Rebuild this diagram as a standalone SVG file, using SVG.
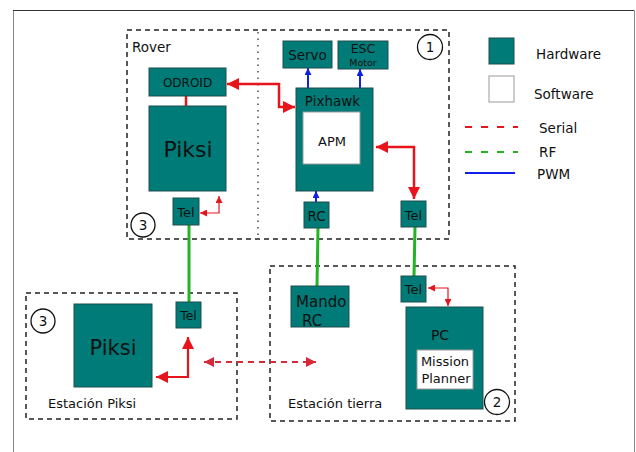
<svg xmlns="http://www.w3.org/2000/svg" width="636" height="452" viewBox="0 0 636 452">
<defs>
<style>
.hw{fill:#007b78;stroke:#1f4f4d;stroke-width:1}
.sw{fill:#ffffff;stroke:#9a9a9a;stroke-width:1}
.grp{fill:none;stroke:#222;stroke-width:1.5;stroke-dasharray:5,4}
.t{font-family:"DejaVu Sans","Verdana",sans-serif;fill:#111}
.ser{stroke:#e8141c;fill:none}
.rf{stroke:#22b422;stroke-width:3;fill:none}
.pwm{stroke:#1020e8;stroke-width:2;fill:none}
.circ{fill:#fff;stroke:#111;stroke-width:1.3}
</style>
<marker id="ar" viewBox="0 0 10 10" refX="10" refY="5" markerWidth="12" markerHeight="12" markerUnits="userSpaceOnUse" orient="auto-start-reverse"><path d="M0,0 L10,5 L0,10 Z" fill="#e8141c"/></marker>
<marker id="ars" viewBox="0 0 10 10" refX="10" refY="5" markerWidth="7" markerHeight="7" markerUnits="userSpaceOnUse" orient="auto-start-reverse"><path d="M0,0 L10,5 L0,10 Z" fill="#e8141c"/></marker>
<marker id="ard" viewBox="0 0 10 10" refX="10" refY="5" markerWidth="12" markerHeight="10" markerUnits="userSpaceOnUse" orient="auto-start-reverse"><path d="M0,0 L10,5 L0,10 Z" fill="#d42a3a"/></marker>
<marker id="ab" viewBox="0 0 10 10" refX="10" refY="5" markerWidth="7" markerHeight="7" markerUnits="userSpaceOnUse" orient="auto"><path d="M0,0 L10,5 L0,10 Z" fill="#1020e8"/></marker>
</defs>
<rect width="636" height="452" fill="#fff"/>
<path d="M13.5,452 V10.5 H634.5 V452" fill="none" stroke="#888" stroke-width="1"/>
<line x1="13" y1="10.5" x2="634" y2="10.5" stroke="#333" stroke-width="1"/>

<g id="rover-group">
<rect class="grp" x="127" y="30" width="322" height="209"/>
<line x1="258" y1="32" x2="258" y2="238" stroke="#333" stroke-width="1.3" stroke-dasharray="1.5,5"/>
<text class="t" x="132" y="52" font-size="13.5">Rover</text>
<circle class="circ" cx="430" cy="47" r="12.5"/><text class="t" x="430" y="52" font-size="13.5" text-anchor="middle">1</text>
<circle class="circ" cx="143" cy="225" r="12"/><text class="t" x="143" y="230" font-size="13.5" text-anchor="middle">3</text>
</g>
<g id="station-piksi-group">
<rect class="grp" x="26" y="293" width="211" height="126"/>
<circle class="circ" cx="43" cy="321" r="12"/><text class="t" x="43" y="326" font-size="13.5" text-anchor="middle">3</text>
<text class="t" x="48" y="408" font-size="13">Estación Piksi</text>
</g>
<g id="station-tierra-group">
<rect class="grp" x="270" y="266" width="245" height="155"/>
<circle class="circ" cx="497" cy="402" r="12.5"/><text class="t" x="497" y="407" font-size="13.5" text-anchor="middle">2</text>
<text class="t" x="288" y="408" font-size="13">Estación tierra</text>
</g>

<g id="connectors">
<line class="ser" x1="186" y1="96" x2="186" y2="106" stroke-width="2.5"/>
<polyline class="ser" points="227,84 279,84 279,107 295,107" stroke-width="2.5" marker-start="url(#ar)" marker-end="url(#ar)"/>
<polyline class="ser" points="376,147 414,147 414,199" stroke-width="2.5" marker-start="url(#ar)" marker-end="url(#ar)"/>
<polyline class="ser" points="200,213 219,213 219,196" stroke-width="1.2" marker-start="url(#ars)" marker-end="url(#ars)"/>
<polyline class="ser" points="188,337 188,377 156,377" stroke-width="2.2" marker-start="url(#ar)" marker-end="url(#ar)"/>
<polyline class="ser" points="428,288 448,288 448,306" stroke-width="1.2" marker-start="url(#ars)" marker-end="url(#ars)"/>
<line x1="204" y1="362" x2="316" y2="362" stroke="#d42a3a" stroke-width="2" stroke-dasharray="6,5" marker-start="url(#ard)" marker-end="url(#ard)"/>
<line class="pwm" x1="308" y1="88" x2="308" y2="68" marker-end="url(#ab)"/>
<line class="pwm" x1="360" y1="88" x2="360" y2="69" marker-end="url(#ab)"/>
<line class="pwm" x1="316" y1="202" x2="316" y2="191" marker-end="url(#ab)"/>
<line class="rf" x1="189" y1="225" x2="189" y2="302"/>
<line class="rf" x1="318" y1="228" x2="317" y2="286"/>
<line class="rf" x1="415" y1="227" x2="414" y2="276"/>
</g>

<g id="odroid"><rect class="hw" x="149" y="68" width="77" height="28"/><text class="t" x="187.5" y="86.5" font-size="12" text-anchor="middle">ODROID</text></g>
<g id="piksi-rover"><rect class="hw" x="149" y="106" width="77" height="85"/><text class="t" x="188" y="157" font-size="22" text-anchor="middle">Piksi</text></g>
<g id="tel-rover-left"><rect class="hw" x="173" y="198" width="26" height="27"/><text class="t" x="186" y="216.5" font-size="13" text-anchor="middle">Tel</text></g>
<g id="servo"><rect class="hw" x="283" y="41" width="49" height="27"/><text class="t" x="307.5" y="59.5" font-size="13.5" text-anchor="middle">Servo</text></g>
<g id="esc-motor"><rect class="hw" x="338" y="41" width="50" height="28"/><text class="t" x="363" y="53" font-size="12.5" text-anchor="middle">ESC</text><text class="t" x="363" y="65.5" font-size="9.5" text-anchor="middle">Motor</text></g>
<g id="pixhawk"><rect class="hw" x="296" y="88" width="77" height="103"/><text class="t" x="332.5" y="105.5" font-size="13.5" text-anchor="middle">Pixhawk</text></g>
<g id="apm"><rect class="sw" x="303" y="112" width="57" height="52"/><text class="t" x="332" y="146" font-size="13" text-anchor="middle">APM</text></g>
<g id="rc"><rect class="hw" x="304" y="202" width="25" height="26"/><text class="t" x="316.5" y="221" font-size="13.5" text-anchor="middle">RC</text></g>
<g id="tel-rover-right"><rect class="hw" x="401" y="201" width="25" height="26"/><text class="t" x="413.5" y="220" font-size="13" text-anchor="middle">Tel</text></g>

<g id="piksi-station"><rect class="hw" x="74" y="304" width="78" height="83"/><text class="t" x="113" y="355" font-size="21" text-anchor="middle">Piksi</text></g>
<g id="tel-piksi-station"><rect class="hw" x="176" y="302" width="25" height="26"/><text class="t" x="188.5" y="320" font-size="12.5" text-anchor="middle">Tel</text></g>

<g id="mando-rc"><rect class="hw" x="291" y="286" width="58" height="41"/><text class="t" x="296" y="307" font-size="15">Mando</text><text class="t" x="302" y="326" font-size="15">RC</text></g>
<g id="tel-tierra"><rect class="hw" x="401" y="276" width="25" height="26"/><text class="t" x="413.5" y="294" font-size="13" text-anchor="middle">Tel</text></g>
<g id="pc"><rect class="hw" x="406" y="307" width="77" height="102"/><text class="t" x="440" y="340" font-size="14" text-anchor="middle">PC</text></g>
<g id="mission-planner"><rect class="sw" x="417" y="350" width="56" height="39"/><text class="t" x="445" y="366" font-size="13" text-anchor="middle">Mission</text><text class="t" x="446" y="383" font-size="13" text-anchor="middle">Planner</text></g>

<g id="legend">
<rect class="hw" x="489" y="38" width="25" height="26" stroke="#222"/>
<text class="t" x="536" y="59" font-size="13.5">Hardware</text>
<rect class="sw" x="489" y="76" width="25" height="26"/>
<text class="t" x="534" y="99" font-size="13.5">Software</text>
<line x1="465" y1="127" x2="518" y2="127" stroke="#e8141c" stroke-width="2" stroke-dasharray="7,9"/>
<text class="t" x="539" y="133" font-size="13.5">Serial</text>
<line x1="465" y1="152" x2="518" y2="152" stroke="#22b422" stroke-width="2" stroke-dasharray="7,9"/>
<text class="t" x="539" y="157" font-size="13.5">RF</text>
<line x1="465" y1="173" x2="515" y2="173" stroke="#1020e8" stroke-width="2"/>
<text class="t" x="537" y="179" font-size="13.5">PWM</text>
</g>
</svg>
